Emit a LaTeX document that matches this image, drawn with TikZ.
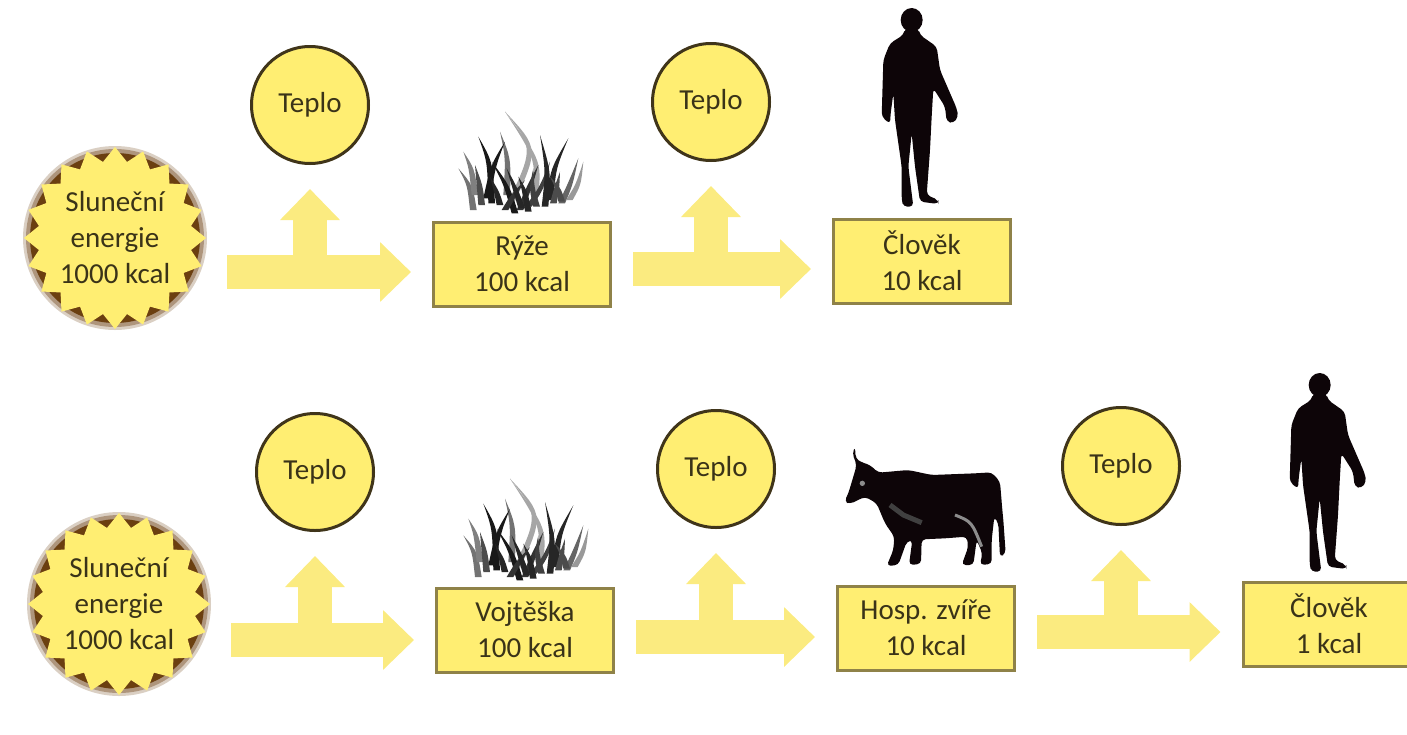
\documentclass[tikz,border=0pt]{standalone}
\usepackage{fontspec}
\setmainfont{Carlito}
\usetikzlibrary{arrows.meta, positioning}
\definecolor{cfill}{HTML}{FFEE72}
\definecolor{cflow}{HTML}{FBEB80}
\definecolor{cedge}{HTML}{8F8248}
\definecolor{cring}{HTML}{40351A}
\definecolor{ctext}{HTML}{3A3318}
\definecolor{cglow}{HTML}{6B3F10}
\definecolor{cblack}{HTML}{0D0508}
\tikzset{
  every picture/.style={x=1pt, y=-1pt, font=\fontsize{29}{36}\selectfont, text=ctext},
  heat/.style={circle, draw=cring, fill=cfill, line width=3pt, minimum size=117pt, inner sep=0pt},
  box/.style={draw=cedge, fill=cfill, line width=3pt, minimum width=177pt, minimum height=84pt, align=center, inner sep=0pt},
  sun/.style={circle, minimum size=182pt, align=center, inner sep=0pt},
  flow/.style={draw=cflow, line width=34pt, -{Triangle[length=31pt, width=58pt]}},
  pics/sunstar/.style={code={
    \fill[cglow!25] circle (92);
    \fill[cglow!55] circle (89);
    \fill[cglow] circle (85);
    \fill[cfill] plot[samples at={0,...,39}, variable=\k]
      ({(91-14*mod(\k,2))*cos(9*\k)},{(91-14*mod(\k,2))*sin(9*\k)}) -- cycle;
  }},
  pics/person/.style={code={
    \begin{scope}[scale=1/3]
      \fill[cblack] (215,60) ellipse (33 and 36);
      \fill[cblack, rounded corners=4pt] (195,85) -- (190,105) -- (150,130) -- (130,180) -- (125,350) -- (150,372) -- (152,340)
        -- (160,280) -- (165,360) -- (185,500) -- (185,600) -- (190,620) -- (220,620) -- (205,500) -- (215,400) -- (225,500)
        -- (240,605) -- (295,612) -- (295,600) -- (260,585) -- (270,450) -- (275,350) -- (280,265) -- (315,320) -- (320,365)
        -- (340,370) -- (355,350) -- (350,325) -- (300,210) -- (290,140) -- (240,105) -- (235,85) -- cycle;
    \end{scope}
  }},
  pics/grass/.style={code={
    \begin{scope}[scale=1/3]
      \foreach \bx/\by/\cx/\cy/\tx/\ty/\tone in {
          175/310/260/130/165/20/35, 250/300/270/170/165/20/35,
          70/315/60/240/25/190/55, 75/270/65/190/40/140/50,
          170/270/175/160/150/80/55, 125/295/120/170/85/95/90,
          110/280/130/180/165/110/90, 195/325/170/240/125/170/90,
          210/315/240/240/265/180/80, 235/305/275/250/300/170/75,
          285/305/295/200/270/90/85, 300/285/310/190/355/100/85,
          310/295/320/250/330/200/70, 335/295/360/240/385/160/60,
          358/285/385/240/400/170/40, 150/300/140/260/120/215/85,
          235/320/225/260/205/215/85, 95/300/90/240/75/180/70,
          165/315/190/270/225/225/80, 260/305/245/250/250/190/75,
          335/290/325/250/300/215/70, 215/310/195/250/170/190/85} {
        \fill[black!\tone] (\bx-10,\by) .. controls (\cx-8,\cy) .. (\tx,\ty)
          .. controls (\cx+8,\cy) .. (\bx+10,\by) -- cycle;
      }
    \end{scope}
  }},
  pics/cow/.style={code={
    \begin{scope}[scale=1/3]
      \fill[cblack, rounded corners=4pt] (60,20) -- (62,55) -- (75,65) -- (105,75) -- (130,98) -- (220,90) -- (290,105) -- (420,100)
        -- (470,97) -- (495,125) -- (502,210) -- (505,240) -- (512,340) -- (495,352) -- (490,250) -- (478,230) -- (470,300)
        -- (470,372) -- (435,375) -- (442,340) -- (425,300) -- (415,375) -- (380,375) -- (400,320) -- (395,290) -- (330,295)
        -- (260,298) -- (258,372) -- (222,375) -- (232,300) -- (215,305) -- (190,375) -- (155,378) -- (175,330) -- (178,290)
        -- (150,250) -- (125,190) -- (90,170) -- (45,192) -- (28,185) -- (40,160) -- (55,110) -- (65,75) -- (52,40) -- cycle;
      \fill[black!45] (82,130) circle (8);
      \draw[black!75, line width=5pt] (165,195) -- (205,225) -- (260,248);
      \draw[black!45, line width=3pt] (360,225) .. controls (410,245) .. (440,320);
    \end{scope}
  }},
}
\begin{document}
\begin{tikzpicture}
  \useasboundingbox (0,0) rectangle (1407,734);
  % suns
  \foreach \n/\x/\y in {sunA/115/238, sunB/119/604} {
    \pic at (\x,\y) {sunstar};
    \node[sun] (\n) at (\x,\y) {Sluneční\\energie\\1000 kcal};
  }
  % heat circles
  \foreach \n/\x/\y in {heatA/310/105, heatB/711/102, heatC/315/472, heatD/716/469, heatE/1121/466}
    \node[heat] (\n) at (\x,\y) {Teplo};
  % boxes
  \node[box] (rice) at (522,264) {Rýže\\100 kcal};
  \node[box] (manA) at (922,261) {Člověk\\10 kcal};
  \node[box] (alfalfa) at (525,630) {Vojtěška\\100 kcal};
  \node[box] (animal) at (926,628) {Hosp. zvíře\\10 kcal};
  \node[box, minimum width=172pt] (manB) at (1329,624) {Člověk\\1 kcal};
  % pictures above the boxes
  \pic at (450,105) {grass};
  \pic at (455,472) {grass};
  \pic at (840,0) {person};
  \pic at (1248,365) {person};
  \pic at (835,440) {cow};
  % arrows
  \foreach \from/\via/\to/\y in {sunA/heatA/rice/272, rice/heatB/manA/269, sunB/heatC/alfalfa/640, alfalfa/heatD/animal/637, animal/heatE/manB/632} {
    \coordinate (\via split) at (\via.south |- 0,\y);
    \draw[flow, shorten >=24pt] (\via split) -- (\via.south);
    \draw[flow, shorten <=21pt, shorten >=21pt] (\from.east |- \via split) -- (\to.west |- \via split);
  }
\end{tikzpicture}
\end{document}
